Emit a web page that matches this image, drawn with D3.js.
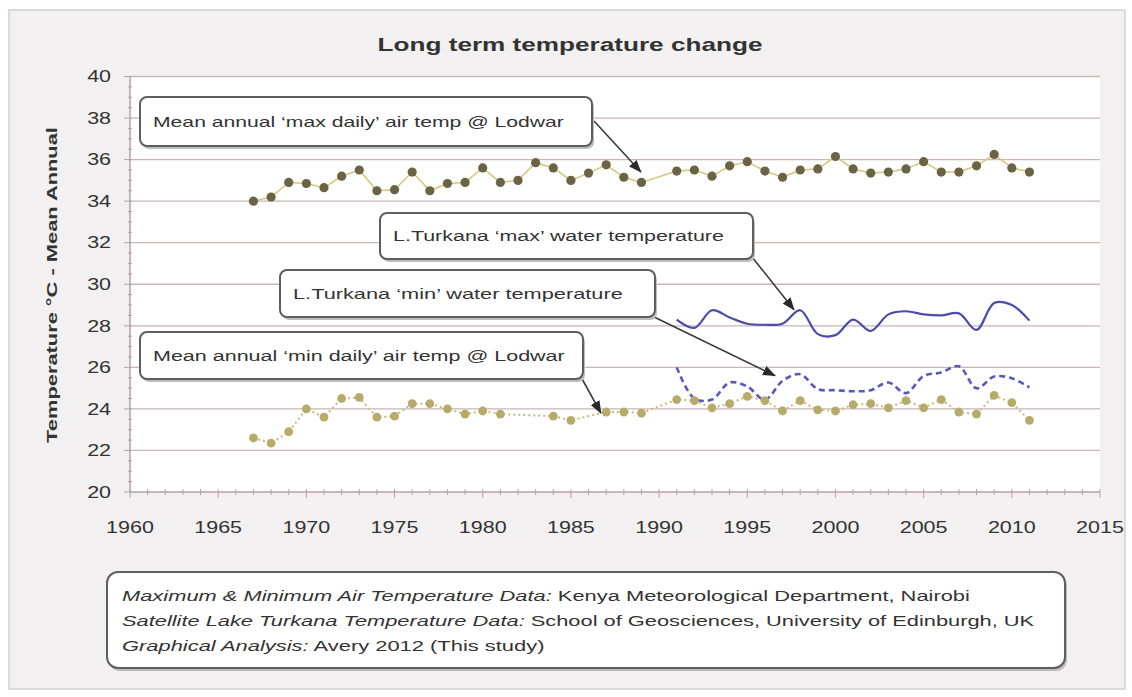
<!DOCTYPE html>
<meta charset="utf-8">
<style>
  body { margin: 0; background: #fff; }
  svg text { font-family: Arial, "Liberation Sans", sans-serif; fill: #333; }
</style>
<svg width="1132" height="697"></svg>
<script src="https://d3js.org/d3.v7.min.js"></script>
<script>
// ---- data ----
var airYears = d3.range(1967, 2012);
var maxAir = [34.0, 34.2, 34.9, 34.85, 34.65, 35.2, 35.5, 34.5, 34.55, 35.4,
              34.5, 34.85, 34.9, 35.6, 34.9, 35.0, 35.85, 35.6, 35.0, 35.35,
              35.75, 35.15, 34.9, null, 35.45, 35.5, 35.2, 35.7, 35.9, 35.45,
              35.15, 35.5, 35.55, 36.15, 35.55, 35.35, 35.4, 35.55, 35.9, 35.4,
              35.4, 35.7, 36.25, 35.6, 35.4];
var minAir = [22.6, 22.35, 22.9, 24.0, 23.6, 24.5, 24.55, 23.6, 23.65, 24.25,
              24.25, 24.0, 23.75, 23.9, 23.75, null, null, 23.65, 23.45, null,
              23.85, 23.85, 23.8, null, 24.45, 24.4, 24.05, 24.25, 24.6, 24.4,
              23.9, 24.4, 23.95, 23.9, 24.2, 24.25, 24.05, 24.4, 24.05, 24.45,
              23.85, 23.75, 24.65, 24.3, 23.45];
var waterYears = d3.range(1991, 2012);
var maxWater = [28.3, 27.9, 28.75, 28.4, 28.1, 28.05, 28.1, 28.75, 27.6, 27.55,
                28.3, 27.75, 28.55, 28.7, 28.55, 28.5, 28.6, 27.8, 29.1, 29.0, 28.25];
var minWater = [26.0, 24.5, 24.45, 25.27, 25.08, 24.44, 25.35, 25.67, 24.95, 24.9,
                24.85, 24.9, 25.27, 24.76, 25.59, 25.75, 26.05, 24.99, 25.56, 25.47, 25.03];
var xTicks = d3.range(1960, 2016, 5);
var yTicks = d3.range(20, 41, 2);

var titleText = 'Long term temperature change';
var yTitle = 'Temperature \u00B0C - Mean Annual';
var noteTexts = ['Mean annual \u2018max daily\u2019 air temp @ Lodwar',
                 'L.Turkana \u2018max\u2019 water temperature',
                 'L.Turkana \u2018min\u2019 water temperature',
                 'Mean annual \u2018min daily\u2019 air temp @ Lodwar'];
// where each note's arrow points, in data units [year, °C]
var noteTargets = [[1988.97, 35.4], [1997.65, 28.77], [1996.57, 25.6], [1986.7, 23.8]];
var sourceLines = [
  ['Maximum & Minimum Air Temperature Data:', ' Kenya Meteorological Department, Nairobi'],
  ['Satellite Lake Turkana Temperature Data:', ' School of Geosciences, University of Edinburgh, UK'],
  ['Graphical Analysis:', ' Avery 2012 (This study)']
];

var svg = d3.select('svg');
var x = d3.scaleLinear().domain([1960, 2015]).range([130, 1100]);
var y = d3.scaleLinear().domain([20, 40]).range([492, 76.5]);

// stretch a text horizontally (pictures text looks wide)
function stretch(t, w, ax) {
  var bw = t.node().getBBox().width;
  var k = w / bw;
  t.attr('transform', 'translate(' + ax + ',0) scale(' + k + ',1) translate(' + (-ax) + ',0)');
}

// panel + plot area
svg.append('rect').attr('x', 9).attr('y', 10).attr('width', 1116).attr('height', 679)
  .attr('fill', '#f2f0f0').attr('stroke', '#dcdada').attr('stroke-width', 2);
svg.append('rect').attr('x', 130).attr('y', 76.5).attr('width', 970).attr('height', 415.5)
  .attr('fill', '#fff');

var defs = svg.append('defs');
defs.append('marker').attr('id', 'arrow')
  .attr('markerUnits', 'userSpaceOnUse')
  .attr('markerWidth', 14).attr('markerHeight', 12)
  .attr('refX', 12).attr('refY', 5).attr('orient', 'auto')
  .append('path').attr('d', 'M0,0 L13,5 L0,10 Z').attr('fill', '#2a2a2a');

// gridlines
svg.append('g').selectAll('line').data(yTicks.slice(1)).enter().append('line')
  .attr('x1', 130).attr('x2', 1100)
  .attr('y1', function (d) { return y(d); }).attr('y2', function (d) { return y(d); })
  .attr('stroke', '#c9b6b6').attr('stroke-width', 1.3);

// x axis
var gx = svg.append('g').attr('transform', 'translate(0,492)');
gx.append('line').attr('x1', 130).attr('x2', 1100).attr('stroke', '#b7a2a2').attr('stroke-width', 1.5);
gx.selectAll('line.minor').data(d3.range(1960, 2016)).enter().append('line')
  .attr('class', 'minor')
  .attr('x1', function (d) { return x(d); }).attr('x2', function (d) { return x(d); })
  .attr('y1', -3).attr('y2', function (d) { return d % 5 === 0 ? 6 : 3; })
  .attr('stroke', '#b7a2a2').attr('stroke-width', 1);
gx.selectAll('text').data(xTicks).enter().append('text')
  .attr('x', function (d) { return x(d); }).attr('y', 41)
  .attr('text-anchor', 'middle').attr('font-size', 16)
  .text(function (d) { return d; })
  .each(function (d) { stretch(d3.select(this), 48, x(d)); });

// y axis
var gy = svg.append('g');
gy.append('line').attr('x1', 130).attr('x2', 130).attr('y1', 76.5).attr('y2', 492)
  .attr('stroke', '#b7a2a2').attr('stroke-width', 1.5);
gy.selectAll('line.tick').data(d3.range(20, 40.1, 0.5)).enter().append('line')
  .attr('class', 'tick')
  .attr('x1', function (d) { return d % 2 === 0 ? 124 : 128; }).attr('x2', 132)
  .attr('y1', function (d) { return y(d); }).attr('y2', function (d) { return y(d); })
  .attr('stroke', '#b7a2a2').attr('stroke-width', 1);
gy.selectAll('text').data(yTicks).enter().append('text')
  .attr('x', 111).attr('y', function (d) { return y(d); }).attr('dy', '0.36em')
  .attr('text-anchor', 'end').attr('font-size', 16)
  .text(function (d) { return d; })
  .each(function () { stretch(d3.select(this), 24, 111); });

// titles
var tt = svg.append('text').attr('x', 570).attr('y', 51).attr('text-anchor', 'middle')
  .attr('font-size', 18).attr('font-weight', 'bold').attr('fill', '#222').text(titleText);
stretch(tt, 385, 570);
var yt = svg.append('g').attr('transform', 'translate(57,285) rotate(-90)')
  .append('text').attr('text-anchor', 'middle').attr('font-size', 15)
  .attr('font-weight', 'bold').attr('fill', '#222').text(yTitle);
stretch(yt, 316, 0);

// series
function pts(years, vals) {
  return years.map(function (yr, i) { return [yr, vals[i]]; })
    .filter(function (d) { return d[1] != null; });
}
var straight = d3.line().x(function (d) { return x(d[0]); }).y(function (d) { return y(d[1]); });
var smooth = d3.line().x(function (d) { return x(d[0]); }).y(function (d) { return y(d[1]); })
  .curve(d3.curveCatmullRom.alpha(0.5));

var maxAirPts = pts(airYears, maxAir), minAirPts = pts(airYears, minAir);

svg.append('path').datum(pts(waterYears, maxWater)).attr('d', smooth)
  .attr('fill', 'none').attr('stroke', '#4b4bac').attr('stroke-width', 2.2);
svg.append('path').datum(pts(waterYears, minWater)).attr('d', smooth)
  .attr('fill', 'none').attr('stroke', '#5858bd').attr('stroke-width', 2.6)
  .attr('stroke-dasharray', '6,4');

svg.append('path').datum(maxAirPts).attr('d', straight)
  .attr('fill', 'none').attr('stroke', '#d3c67a').attr('stroke-width', 1.5);
svg.append('g').selectAll('circle').data(maxAirPts).enter().append('circle')
  .attr('cx', function (d) { return x(d[0]); }).attr('cy', function (d) { return y(d[1]); })
  .attr('r', 4.6).attr('fill', '#6a6344');

svg.append('path').datum(minAirPts).attr('d', straight)
  .attr('fill', 'none').attr('stroke', '#c5b976').attr('stroke-width', 2)
  .attr('stroke-dasharray', '2,3');
svg.append('g').selectAll('circle').data(minAirPts).enter().append('circle')
  .attr('cx', function (d) { return x(d[0]); }).attr('cy', function (d) { return y(d[1]); })
  .attr('r', 4.4).attr('fill', '#b7ab6c');

// annotation boxes
var boxes = [
  { x: 140, y: 97, w: 452, h: 49, tw: 411, sx: 594, sy: 121 },
  { x: 380, y: 213, w: 373, h: 46, tw: 331, sx: 752, sy: 257 },
  { x: 280, y: 270, w: 375, h: 47, tw: 330, sx: 652, sy: 316 },
  { x: 140, y: 332, w: 443, h: 47, tw: 412, sx: 581, sy: 377 }
];
boxes.forEach(function (b, i) {
  var g = svg.append('g');
  g.append('line').attr('x1', b.sx).attr('y1', b.sy)
    .attr('x2', x(noteTargets[i][0])).attr('y2', y(noteTargets[i][1]))
    .attr('stroke', '#3a3a3a').attr('stroke-width', 1.6).attr('marker-end', 'url(#arrow)');
  g.append('rect').attr('x', b.x + 2).attr('y', b.y + 3).attr('width', b.w).attr('height', b.h)
    .attr('rx', 7).attr('fill', '#bdbdbd');
  g.append('rect').attr('x', b.x).attr('y', b.y).attr('width', b.w).attr('height', b.h)
    .attr('rx', 7).attr('fill', '#fff').attr('stroke', '#5e5e5e').attr('stroke-width', 2);
  var t = g.append('text').attr('x', b.x + 13).attr('y', b.y + b.h / 2).attr('dy', '0.36em')
    .attr('font-size', 15).text(noteTexts[i]);
  stretch(t, b.tw, b.x + 13);
});

// source box
var sb = svg.append('g');
sb.append('rect').attr('x', 109).attr('y', 575).attr('width', 958).attr('height', 96)
  .attr('rx', 11).attr('fill', '#bdbdbd');
sb.append('rect').attr('x', 107).attr('y', 572).attr('width', 958).attr('height', 96)
  .attr('rx', 11).attr('fill', '#fff').attr('stroke', '#5e5e5e').attr('stroke-width', 2);
var srcWidths = [848, 913, 423];
sourceLines.forEach(function (ln, i) {
  var t = sb.append('text').attr('x', 122).attr('y', 601 + i * 25).attr('font-size', 15);
  t.append('tspan').attr('font-style', 'italic').text(ln[0]);
  t.append('tspan').text(ln[1]);
  stretch(t, srcWidths[i], 122);
});
</script>
